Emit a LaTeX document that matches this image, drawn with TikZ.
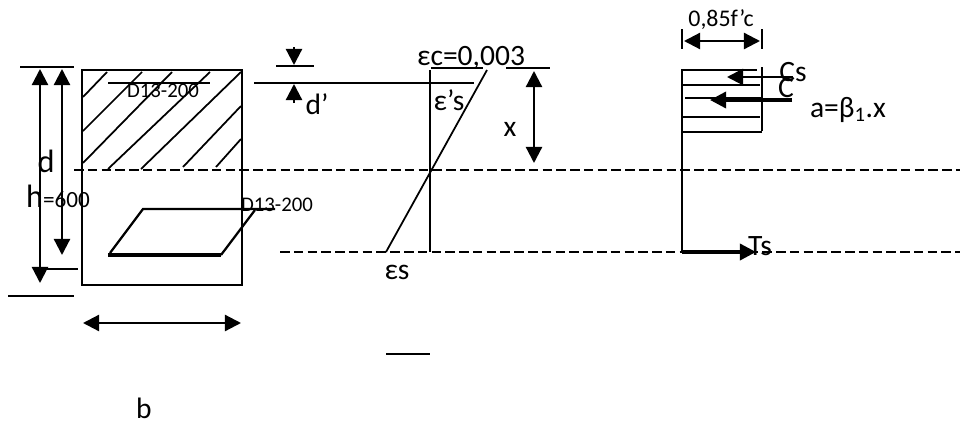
\documentclass[tikz,border=0pt]{standalone}
\usepackage{fontspec}
\setmainfont{Carlito}
\usetikzlibrary{arrows.meta}
\tikzset{
	line/.style={line width=1.6pt},
	thinline/.style={line width=1.25pt},
	dashline/.style={line width=1.25pt, dash pattern=on 6.8pt off 3pt},
	dim/.style={line width=1.6pt, {Triangle[length=11.5pt,width=11.5pt]}-{Triangle[length=11.5pt,width=11.5pt]}},
	force/.style={line width=2.4pt, -{Triangle[length=11.5pt,width=11.5pt]}},
	lab/.style={inner sep=0pt, font=\fontsize{21}{23}\selectfont},
	rebarlab/.style={inner sep=0pt, font=\fontsize{14.8}{16}\selectfont},
}
\begin{document}
\begin{tikzpicture}[x=.025cm, y=-.025cm]
	\useasboundingbox (0,0) rectangle (960,421);

	% section
	\draw[line] (82,70) rectangle (242,285);
	\draw[thinline] (83,97) -- (107,72);
	\draw[thinline] (83,131) -- (142,72);
	\draw[thinline] (83,163) -- (172,72);
	\draw[thinline] (108,169) -- (210,72);
	\draw[thinline] (141,169) -- (241,72);
	\draw[thinline] (183,167) -- (241,106);
	\draw[thinline] (216,167) -- (241,139);
	\draw[line] (108,83) -- (210,83);
	\node[rebarlab] (rebartop) at (163,91) {D13-200};

	\draw[line width=3.2pt] (108,255) -- (221,255);
	\draw[line] (110,253) -- (143,209) -- (275,209);
	\draw[line] (221,255) -- (255,210);
	\node[rebarlab] (rebarbot) at (277,205) {D13-200};

	% dimensions of the section
	\draw[thinline] (20,67) -- (74,67);
	\draw[thinline] (46,269) -- (78,269);
	\draw[thinline] (8,296) -- (74,296);
	\draw[dim] (40,69) -- (40,283);
	\draw[dim] (62,69) -- (62,255);
	\draw[dim] (83,323) -- (241,323);
	\node[lab, font=\fontsize{23}{25}\selectfont] (dlab) at (46,161) {d};
	\node[lab, font=\fontsize{16.5}{20}\selectfont] (hlab) at (58,196) {{\fontsize{23}{25}\selectfont h}=600};
	\node[lab] (blab) at (144,408) {b};

	% neutral axis and steel level
	\draw[dashline] (74,170) -- (960,170);
	\draw[dashline] (280,252) -- (960,252);

	% d'
	\draw[thinline] (276,66) -- (314,66);
	\draw[line] (254,83) -- (474,83);
	\draw[line, -{Triangle[length=11.5pt,width=11.5pt]}] (294,47) -- (294,65);
	\draw[line, -{Triangle[length=11.5pt,width=11.5pt]}] (294,103) -- (294,84);
	\node[lab] (dprime) at (317,104) {d’};

	% strain
	\draw[thinline] (430,70) -- (430,252);
	\draw[thinline] (386,252) -- (487,70);
	\draw[thinline] (431,68) -- (483,68);
	\draw[thinline] (506,68) -- (550,68);
	\draw[thinline] (386,354) -- (430,354);
	\draw[dim] (534,71) -- (534,163);
	\node[lab] (epsc) at (471,58) {εc=0,003};
	\node[lab] (epss) at (449,100) {ε’s};
	\node[lab] (epsb) at (397,272) {εs};
	\node[lab] (xlab) at (510,129) {x};

	% stress block
	\draw[thinline] (682,29) -- (682,49);
	\draw[thinline] (762,29) -- (762,49);
	\draw[dim] (684,41) -- (760,41);
	\node[lab, font=\fontsize{17}{20}\selectfont] (fc) at (721,20) {0,85f’c};
	\draw[line] (682,69) -- (682,252);
	\draw[line] (762,67) -- (762,131);
	\draw[thinline] (682,70) -- (757,70);
	\draw[thinline] (682,85) -- (760,85);
	\draw[thinline] (685,98) -- (762,98);
	\draw[thinline] (682,117) -- (760,117);
	\draw[thinline] (682,132) -- (762,132);
	\draw[line, -{Triangle[length=11.5pt,width=11.5pt]}] (793,77) -- (727,77);
	\draw[force] (792,100) -- (710,100);
	\draw[force] (682,252) -- (756,252);
	\node[lab] (cs) at (793,72) {Cs};
	\node[lab] (clab) at (786,88) {C};
	\node[lab] (alab) at (848,110) {a=β\textsubscript{1}.x};
	\node[lab] (ts) at (760,246) {Ts};
\end{tikzpicture}
\end{document}
